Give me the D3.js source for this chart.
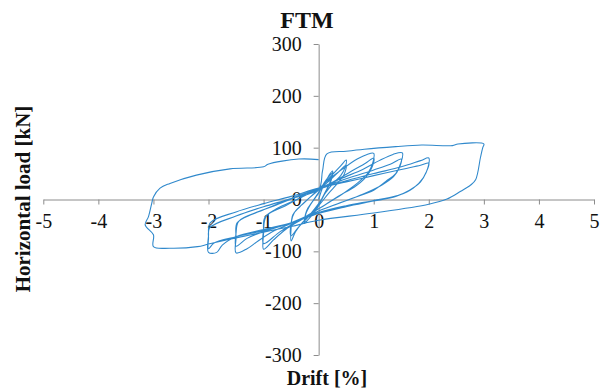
<!DOCTYPE html>
<html>
<head>
<meta charset="utf-8">
<script src="https://cdn.jsdelivr.net/npm/d3@7"></script>
<style>
  html, body { margin: 0; padding: 0; background: #fff; }
  svg { display: block; }
</style>
</head>
<body>
<svg id="chart" width="601" height="390"></svg>
<script>
// Cyclic test, specimen FTM: drift [%] vs horizontal load [kN]
// Each array holds the [drift, load] points of one amplitude step.
const cycle025 = [
  [0,0],[0.08,25],[0.18,45],[0.25,55],[0.23,38],[0.13,15],[0.03,-5],[0,-12],[-0.1,-28],[-0.2,-40],[-0.25,-46],
  [-0.24,-30],[-0.15,-10],[-0.05,5],[0,12],
  [0.1,32],[0.2,46],[0.26,52],[0.2,32],[0.1,10],[0,-10],[-0.12,-30],[-0.25,-43],[-0.22,-22],[-0.1,-2],[0,14]
];
const cycle05 = [
  [0.1,30],[0.25,48],[0.4,65],[0.5,76],[0.48,62],[0.4,46],[0.27,32],[0.12,12],[0,-8],[-0.15,-28],[-0.3,-45],
  [-0.42,-62],[-0.5,-80],[-0.5,-55],[-0.47,-30],[-0.35,-15],[-0.18,2],[0,18],
  [0.15,32],[0.35,52],[0.5,66],[0.46,48],[0.35,32],[0.18,12],[0,-12],[-0.2,-35],[-0.38,-55],[-0.5,-70],
  [-0.5,-45],[-0.44,-25],[-0.25,-5],[0,20]
];
const cycle10 = [
  [0.2,40],[0.45,60],[0.7,78],[0.88,87],[1.0,89],[0.98,70],[0.9,52],[0.72,33],[0.45,12],[0.2,-5],[0,-18],
  [-0.3,-38],[-0.6,-58],[-0.82,-78],[-1.0,-96],[-1.0,-65],[-0.98,-35],[-0.8,-20],[-0.5,-5],[-0.2,10],[0,20],
  [0.3,36],[0.6,55],[0.85,70],[1.0,80],[0.96,60],[0.85,42],[0.65,24],[0.35,6],[0,-18],[-0.35,-40],
  [-0.7,-62],[-1.0,-85],[-1.0,-58],[-0.95,-32],[-0.6,-12],[-0.3,5],[0,20]
];
const cycle15 = [
  [0.4,40],[0.8,58],[1.1,75],[1.35,87],[1.52,90],[1.49,70],[1.4,50],[1.22,35],[1.0,18],[0.6,2],[0.3,-10],
  [0,-22],[-0.4,-42],[-0.8,-60],[-1.1,-80],[-1.3,-95],[-1.5,-103],[-1.5,-75],[-1.48,-45],[-1.2,-28],
  [-0.8,-12],[-0.4,5],[0,20],
  [0.5,40],[1.0,57],[1.3,68],[1.5,78],[1.46,60],[1.36,44],[1.15,28],[0.8,10],[0.4,-6],[0,-22],[-0.5,-45],
  [-1.0,-62],[-1.3,-75],[-1.5,-90],[-1.5,-65],[-1.45,-42],[-1.0,-20],[-0.5,2],[0,20]
];
const cycle20 = [
  [0.5,36],[1.0,50],[1.5,63],[1.85,75],[2.0,80],[1.98,60],[1.9,42],[1.72,22],[1.45,8],[1.0,-2],[0.5,-12],
  [0,-25],[-0.5,-45],[-1.0,-58],[-1.5,-72],[-1.75,-88],[-1.85,-102],[-2.0,-102],[-2.0,-70],[-1.97,-45],
  [-1.5,-24],[-1.0,-8],[-0.5,6],[0,22],
  [0.5,34],[1.0,46],[1.5,58],[1.85,66],[2.0,70],[1.95,52],[1.85,34],[1.65,18],[1.4,6],[1.0,-3],[0.5,-14],
  [0,-27],[-0.5,-46],[-1.0,-60],[-1.5,-72],[-1.9,-84],[-2.0,-95],[-2.0,-75],[-1.98,-55],[-1.5,-32],
  [-1.0,-14],[-0.5,2],[0,20]
];
const cycle30 = [
  [0.07,55],[0.15,88],[0.5,93],[0.83,97],[1.4,102],[1.87,105],[2.43,104],[2.53,107],[3.0,107],
  [2.98,100],[2.94,82],[2.85,38],[2.76,28],[2.58,16],[2.33,1],[2.0,-9],[1.0,-26],[0,-40],[-0.5,-52],
  [-1.0,-63],[-1.5,-74],[-2.0,-86],[-2.2,-91],[-2.7,-94],[-3.0,-91],[-3.0,-68],[-3.15,-49],[-3.09,-33],
  [-3.03,-7],[-3.0,5],[-2.88,22],[-2.7,31],[-2.22,47],[-1.61,59],[-1.0,63],[-0.92,68],[-0.36,78],[0,77]
];

const xTicks = [-5, -4, -3, -2, -1, 0, 1, 2, 3, 4, 5];
const yTicks = [-300, -200, -100, 0, 100, 200, 300];

const history = [].concat(cycle025, cycle05, cycle10, cycle15, cycle20, cycle30);

const svg = d3.select("#chart");
const serif = "'Liberation Serif', 'Times New Roman', serif";

const x = d3.scaleLinear().domain([-5, 5]).range([43.3, 594]);
const y = d3.scaleLinear().domain([-300, 300]).range([355, 44]);

svg.append("rect").attr("width", 601).attr("height", 390).attr("fill", "#fff");

const label = d => d < 0 ? "-" + Math.abs(d) : String(d);

// Horizontal axis through zero load
const xAxis = svg.append("g")
  .attr("transform", `translate(0,${y(0)})`)
  .call(d3.axisBottom(x).tickValues(xTicks).tickSizeInner(5).tickSizeOuter(0).tickPadding(9)
    .tickFormat(label));
// Vertical axis through zero drift
const yAxis = svg.append("g")
  .attr("transform", `translate(${x(0)},0)`)
  .call(d3.axisLeft(y).tickValues(yTicks).tickSizeInner(5).tickSizeOuter(0).tickPadding(12)
    .tickFormat(label));

[xAxis, yAxis].forEach(g => {
  g.attr("font-family", serif).attr("font-size", 20);
  g.selectAll("path.domain").attr("stroke", "#8c8c8c").attr("stroke-width", 1);
  g.selectAll(".tick line").attr("stroke", "#8c8c8c");
  g.selectAll(".tick text").attr("fill", "#111");
});

// Hysteresis curve
const line = d3.line()
  .x(d => x(d[0])).y(d => y(d[1]))
  .curve(d3.curveCatmullRom.alpha(0.5));
svg.append("path")
  .datum(history)
  .attr("d", line)
  .attr("fill", "none")
  .attr("stroke", "#3089cc")
  .attr("stroke-width", 1.1)
  .attr("stroke-linejoin", "round");

// Titles
svg.append("text")
  .attr("x", 307).attr("y", 28)
  .attr("text-anchor", "middle")
  .attr("font-family", serif).attr("font-weight", "bold").attr("font-size", 24)
  .attr("fill", "#111")
  .text("FTM");

svg.append("text")
  .attr("x", 327).attr("y", 385)
  .attr("text-anchor", "middle")
  .attr("font-family", serif).attr("font-weight", "bold").attr("font-size", 20)
  .attr("fill", "#111")
  .text("Drift [%]");

svg.append("text")
  .attr("transform", "translate(30,199) rotate(-90)")
  .attr("text-anchor", "middle")
  .attr("font-family", serif).attr("font-weight", "bold").attr("font-size", 21)
  .attr("fill", "#111")
  .text("Horizontal load [kN]");
</script>
</body>
</html>
